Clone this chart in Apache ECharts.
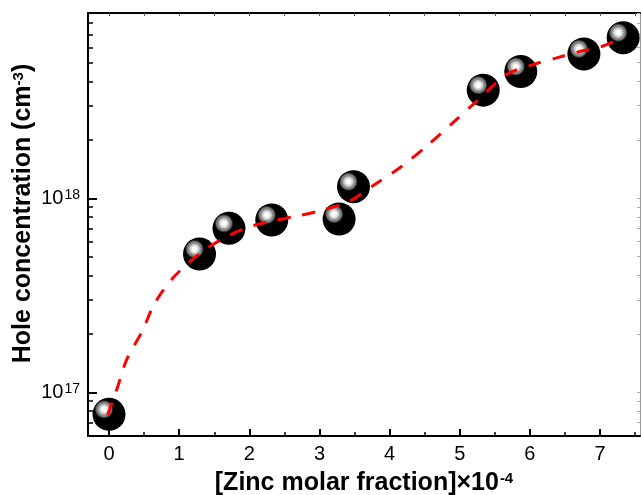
<!DOCTYPE html>
<html>
<head>
<meta charset="utf-8">
<script src="https://cdn.jsdelivr.net/npm/echarts@6/dist/echarts.min.js"></script>
<style>
  html, body { margin: 0; padding: 0; background: #fff; }
  #chart { width: 641px; height: 495px; }
</style>
</head>
<body>
<div id="chart"></div>
<script>
// Measured samples: zinc molar fraction (×10^-4) and hole concentration (cm^-3)
const zincFraction = [0, 1.29, 1.71, 2.32, 3.28, 3.485, 5.335, 5.87, 6.77, 7.33];
const holeConc = [7.7e16, 5.16e17, 7.0e17, 7.73e17, 7.82e17, 1.148e18, 3.61e18, 4.5e18, 5.55e18, 6.73e18];

// Guide-to-the-eye trend curve
const trendX = [-0.02, 0.12, 0.25, 0.48, 0.65, 0.91, 1.15, 1.32, 1.59, 1.95, 2.32, 2.69, 3.05,
                3.43, 3.80, 4.16, 4.53, 4.90, 5.26, 5.66, 6.02, 6.37, 6.69, 7.01, 7.31];
const trendY = [7.64e16, 1.06e17, 1.47e17, 2.09e17, 2.88e17, 3.88e17, 4.70e17, 5.28e17, 6.10e17,
                7.03e17, 7.64e17, 8.11e17, 8.71e17, 9.68e17, 1.186e18, 1.45e18, 1.86e18, 2.45e18,
                3.21e18, 4.33e18, 4.86e18, 5.28e18, 5.68e18, 6.03e18, 6.70e18];

// Axis ticks
const xMajorTicks = [0, 1, 2, 3, 4, 5, 6, 7];
const xMinorTicks = [0.5, 1.5, 2.5, 3.5, 4.5, 5.5, 6.5, 7.5];
const yMajorTicks = [1e17, 1e18];
const yMinorTicks = [7e16, 8e16, 9e16, 2e17, 3e17, 4e17, 5e17, 6e17, 7e17, 8e17, 9e17,
                     2e18, 3e18, 4e18, 5e18, 6e18, 7e18, 8e18, 9e18];

const X_MIN = -0.3, X_MAX = 7.57;
const Y_MIN = 16.775, Y_MAX = 18.955; // log10 extent

const lg = v => Math.log10(v);
const FONT = '"Liberation Sans", Arial, sans-serif';

const chart = echarts.init(document.getElementById('chart'), null, { renderer: 'canvas' });

const baseX = {
  type: 'value', min: X_MIN, max: X_MAX, splitLine: { show: false },
  axisLine: { show: false, onZero: false }, axisLabel: { show: false }, axisTick: { show: false }
};
const baseY = {
  type: 'value', min: Y_MIN, max: Y_MAX, splitLine: { show: false },
  axisLine: { show: false, onZero: false }, axisLabel: { show: false }, axisTick: { show: false }
};

// Glossy black ball marker: dark body with an off-centre specular highlight
const BALL_R = 16.5;
const HILITE_R = 9.5;
const HILITE_OFFSET = 5;
function renderBall(params, api) {
  const p = api.coord([api.value(0), api.value(1)]);
  const hx = p[0] - HILITE_OFFSET, hy = p[1] - HILITE_OFFSET;
  return {
    type: 'group',
    children: [
      { type: 'circle', shape: { cx: p[0], cy: p[1], r: BALL_R }, style: { fill: '#000' } },
      {
        type: 'circle', shape: { cx: hx, cy: hy, r: HILITE_R },
        style: {
          fill: {
            type: 'radial', x: 0.5, y: 0.5, r: 0.5,
            colorStops: [
              { offset: 0, color: '#ffffff' },
              { offset: 0.26, color: '#ffffff' },
              { offset: 0.33, color: '#dcdcdc' },
              { offset: 0.5, color: '#c8c8c8' },
              { offset: 0.58, color: '#939393' },
              { offset: 0.78, color: '#787878' },
              { offset: 0.9, color: '#2a2a2a' },
              { offset: 1, color: '#000000' }
            ]
          }
        }
      }
    ]
  };
}

const option = {
  animation: false,
  backgroundColor: '#fff',
  grid: { left: 88, right: 1, top: 13, bottom: 59, containLabel: false, outerBoundsMode: 'none' },
  xAxis: [
    Object.assign({}, baseX, {
      position: 'bottom',
      axisLine: { show: true, onZero: false, lineStyle: { color: '#000', width: 2 } },
      axisTick: { show: true, inside: true, length: 7, lineStyle: { color: '#000', width: 2 },
                  customValues: xMajorTicks },
      axisLabel: { show: true, customValues: xMajorTicks, margin: 8, color: '#000',
                   fontSize: 20, fontFamily: FONT },
      name: '{t|[Zinc molar fraction]×10}{s|-4}',
      nameLocation: 'middle', nameGap: 35, nameMoveOverlap: false,
      nameTextStyle: {
        rich: {
          t: { fontSize: 25, fontWeight: 'bold', fontFamily: FONT, color: '#000' },
          s: { fontSize: 15, fontWeight: 'bold', fontFamily: FONT, color: '#000', verticalAlign: 'top', padding: [0, 0, 0, 1] }
        }
      }
    }),
    Object.assign({}, baseX, {
      position: 'bottom',
      axisTick: { show: true, inside: true, length: 4, lineStyle: { color: '#000', width: 1.5 },
                  customValues: xMinorTicks }
    }),
    Object.assign({}, baseX, {
      position: 'top',
      axisLine: { show: true, onZero: false, lineStyle: { color: '#000', width: 2 } },
      axisTick: { show: true, inside: true, length: 3, lineStyle: { color: '#555', width: 1 },
                  customValues: xMajorTicks.concat(xMinorTicks) }
    })
  ],
  yAxis: [
    Object.assign({}, baseY, {
      position: 'left',
      axisLine: { show: true, onZero: false, lineStyle: { color: '#000', width: 2 } },
      axisTick: { show: true, inside: true, length: 9, lineStyle: { color: '#000', width: 2 },
                  customValues: yMajorTicks.map(lg) },
      axisLabel: {
        show: true, customValues: yMajorTicks.map(lg), margin: 8,
        formatter: v => '{b|10}{s|' + Math.round(v) + '}',
        rich: {
          b: { fontSize: 20, fontFamily: FONT, color: '#000' },
          s: { fontSize: 14, fontFamily: FONT, color: '#000', verticalAlign: 'top', padding: [0, 0, 0, 1] }
        }
      },
      name: '{t|Hole concentration (cm}{s|-3}{t|)}',
      nameLocation: 'middle', nameGap: 52, nameRotate: 90, nameMoveOverlap: false,
      nameTextStyle: {
        padding: [0, 0, 0, 22],
        rich: {
          t: { fontSize: 25, fontWeight: 'bold', fontFamily: FONT, color: '#000' },
          s: { fontSize: 15, fontWeight: 'bold', fontFamily: FONT, color: '#000', verticalAlign: 'top' }
        }
      }
    }),
    Object.assign({}, baseY, {
      position: 'left',
      axisTick: { show: true, inside: true, length: 5, lineStyle: { color: '#000', width: 1.5 },
                  customValues: yMinorTicks.map(lg) }
    }),
    Object.assign({}, baseY, {
      position: 'right',
      axisLine: { show: true, onZero: false, lineStyle: { color: '#999', width: 1 } },
      axisTick: { show: true, inside: true, length: 3, lineStyle: { color: '#aaa', width: 1 },
                  customValues: yMajorTicks.concat(yMinorTicks).map(lg) }
    })
  ],
  series: [
    {
      type: 'custom',
      xAxisIndex: 0, yAxisIndex: 0,
      data: zincFraction.map((x, i) => [x, lg(holeConc[i])]),
      renderItem: renderBall,
      clip: false,
      z: 2
    },
    {
      type: 'line',
      xAxisIndex: 0, yAxisIndex: 0,
      data: trendX.map((x, i) => [x, lg(trendY[i])]),
      smooth: 0.3,
      showSymbol: false,
      symbol: 'none',
      lineStyle: { color: '#ff0000', width: 3, type: [13, 12] },
      z: 3
    }
  ]
};

chart.setOption(option);
</script>
</body>
</html>
